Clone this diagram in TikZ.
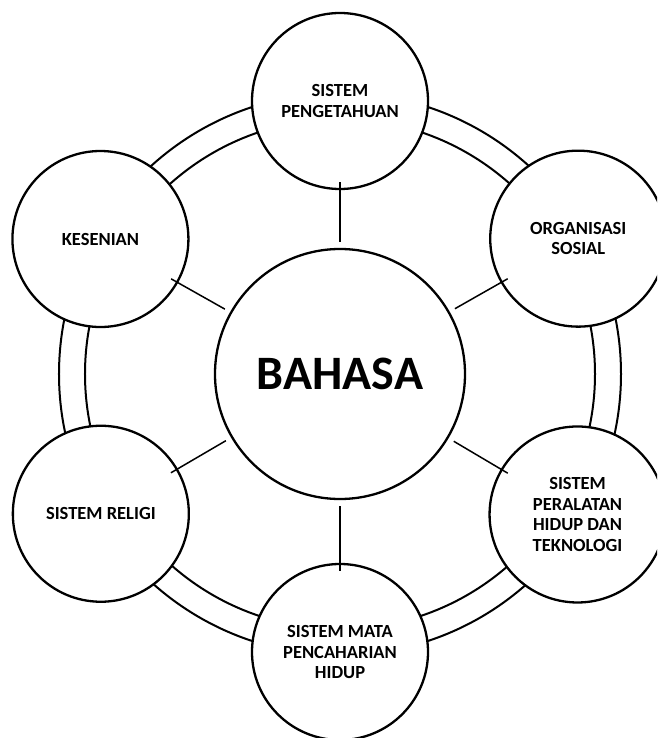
\documentclass[tikz,border=0pt]{standalone}
\usepackage{fontspec}
\setmainfont{Carlito}
\usepackage{tikz}
\usetikzlibrary{positioning}

\begin{document}
\begin{tikzpicture}[x=1pt,y=1pt, every node/.style={font=\bfseries,align=center},
  topic/.style={circle,draw=black,fill=white,line width=2.3pt,minimum size=176pt,inner sep=0pt,
    font=\bfseries\fontsize{18.5}{20.4}\selectfont},
  core/.style={circle,draw=black,fill=white,line width=2.3pt,minimum size=250pt,inner sep=0pt,
    font=\bfseries\fontsize{48}{52}\selectfont},
  ring/.style={draw=black,line width=2pt},
  link/.style={draw=black,line width=1.5pt,shorten <=6pt,shorten >=-8pt}]
  \useasboundingbox (-340,374) rectangle (317,-364);
  \clip (-340,374) rectangle (317,-364);
  % double ring behind the topics
  \draw[ring] (0,0) circle (281);
  \draw[ring] (0,0) circle (255);
  \node[core] (bahasa) at (0,0) {BAHASA};
  \node[topic] (pengetahuan) at (90:273) {SISTEM\\PENGETAHUAN};
  \node[topic] (organisasi) at (29.6:274) {ORGANISASI\\SOSIAL};
  \node[topic] (peralatan) at (-30.6:276) {SISTEM\\PERALATAN\\HIDUP DAN\\TEKNOLOGI};
  \node[topic] (pencaharian) at (-90:278) {SISTEM MATA\\PENCAHARIAN\\HIDUP};
  \node[topic] (religi) at (210.3:277) {SISTEM RELIGI};
  \node[topic] (kesenian) at (150.6:275) {KESENIAN};
  \foreach \t in {pengetahuan,organisasi,peralatan,pencaharian,religi,kesenian}
    \draw[link] (bahasa) -- (\t);
\end{tikzpicture}
\end{document}
